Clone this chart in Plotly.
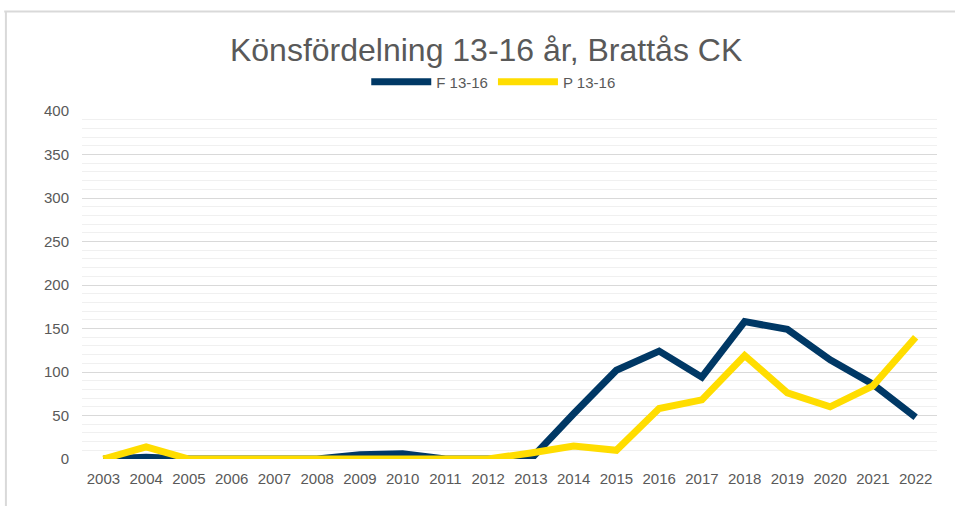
import plotly.graph_objects as go

years = [str(y) for y in range(2003, 2023)]
f_13_16 = [0, 2, 0, 0, 0, 0, 5, 6, 0, 0, 0, 52, 102, 124, 94, 158, 149, 114, 86, 48]
p_13_16 = [0, 14, 0, 0, 0, 0, 0, 0, 0, 0, 7, 15, 10, 58, 68, 119, 76, 60, 84, 140]

NAVY = "#003865"
YELLOW = "#FFDD00"
FONT = "Liberation Sans, Arial, sans-serif"

fig = go.Figure()
fig.add_trace(go.Scatter(x=years, y=f_13_16, name="F 13-16", mode="lines",
                         line=dict(color=NAVY, width=7), cliponaxis=False))
fig.add_trace(go.Scatter(x=years, y=p_13_16, name="P 13-16", mode="lines",
                         line=dict(color=YELLOW, width=7), cliponaxis=False))

fig.update_layout(
    width=955, height=506,
    margin=dict(l=82, r=18, t=111, b=47),
    paper_bgcolor="white", plot_bgcolor="white",
    font=dict(family=FONT, color="#595959", size=15),
    title=dict(text="Könsfördelning 13-16 år, Brattås CK", x=0.509, xanchor="center",
               y=0.901, yanchor="middle", font=dict(size=32, color="#595959")),
    legend=dict(orientation="h", x=0.481, xanchor="center", y=1.083, yanchor="middle",
                font=dict(size=15, color="#595959"), itemwidth=60,
                bgcolor="rgba(0,0,0,0)"),
    showlegend=True,
)
fig.update_xaxes(type="category", range=[-0.5, 19.5], showgrid=False, zeroline=False,
                 showline=False, ticks="", ticklabelstandoff=9,
                 tickfont=dict(size=15, color="#595959"))
fig.update_yaxes(range=[0, 400], dtick=50, showgrid=True, gridcolor="#d9d9d9", gridwidth=1,
                 zeroline=False, showline=False, ticks="", ticklabelstandoff=12,
                 tickfont=dict(size=15, color="#595959"),
                 minor=dict(dtick=10, showgrid=True, gridcolor="#f0f0f0", gridwidth=1))

# chart border (outer frame)
fig.add_shape(type="line", xref="paper", yref="paper", x0=-0.091, x1=1.05, y0=1.286, y1=1.286,
              line=dict(color="#d9d9d9", width=2))
fig.add_shape(type="line", xref="paper", yref="paper", x0=-0.089, x1=-0.089, y0=1.286, y1=-0.2,
              line=dict(color="#d9d9d9", width=2))

fig.write_html("out.html", config={"displayModeBar": False},
               post_script="document.body.style.margin='0';")
